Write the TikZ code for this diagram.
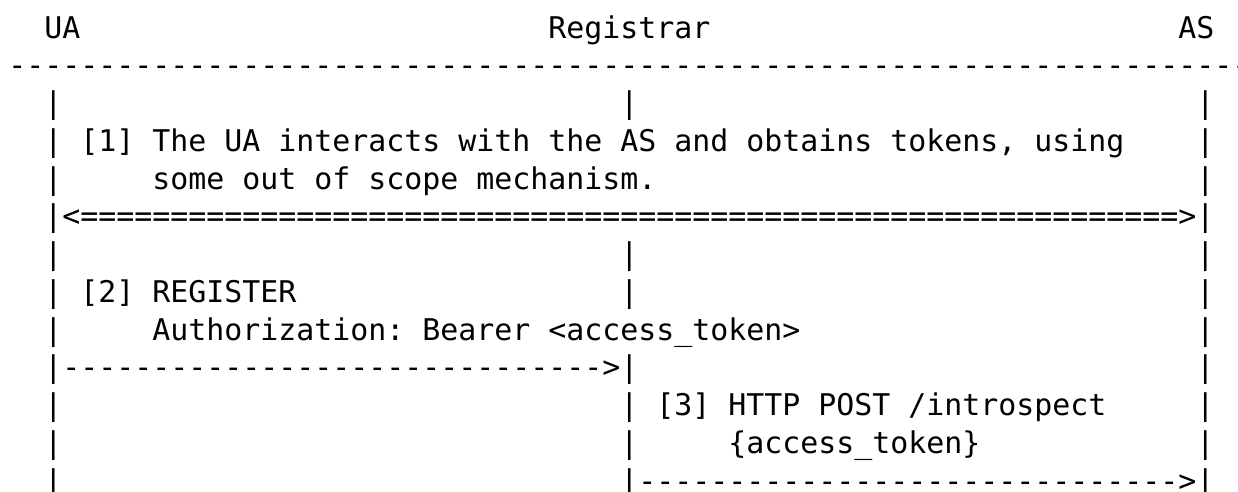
\documentclass[tikz,border=0pt]{standalone}
\usepackage{fontspec}
\setmonofont{DejaVu Sans Mono}
\usepackage{tikz}
\usetikzlibrary{positioning}

\begin{document}
\begin{tikzpicture}[
  x=9pt, y=-18.875pt,
  font=\ttfamily\fontsize{14.95}{18}\selectfont\frenchspacing,
  txt/.style={anchor=base west, inner sep=0pt, outer sep=0pt},
  lifeline/.style={txt}
]
\useasboundingbox (-0.461,-1.007) rectangle (68.317,12.026);
% parties
\node[txt] (ua) at (2,0) {UA};
\node[txt] (reg) at (30,0) {Registrar};
\node[txt] (as) at (65,0) {AS};
\node[txt] (rule) at (0,1) {---------------------------------------------------------------------};
% lifelines
\foreach \r in {2,...,12} {
  \node[lifeline] (uabar\r) at (2,\r) {|};
  \node[lifeline] (asbar\r) at (66,\r) {|};
}
\foreach \r in {2,6,7,9,10,11,12}
  \node[lifeline] (regbar\r) at (34,\r) {|};
% [1] tokens
\node[txt] (step1) at (4,3) {[1] The UA interacts with the AS and obtains tokens, using};
\node[txt] (step1b) at (8,4) {some out of scope mechanism.};
\node[txt] (tokarrow) at (3,5) {<=============================================================>};
% [2] register
\node[txt] (step2) at (4,7) {[2] REGISTER};
\node[txt] (step2b) at (8,8) {Authorization: Bearer <access\_token>};
\node[txt] (regarrow) at (3,9) {------------------------------>};
% [3] introspect
\node[txt] (step3) at (36,10) {[3] HTTP POST /introspect};
\node[txt] (step3b) at (40,11) {\{access\_token\}};
\node[txt] (introarrow) at (35,12) {------------------------------>};
\end{tikzpicture}
\end{document}
